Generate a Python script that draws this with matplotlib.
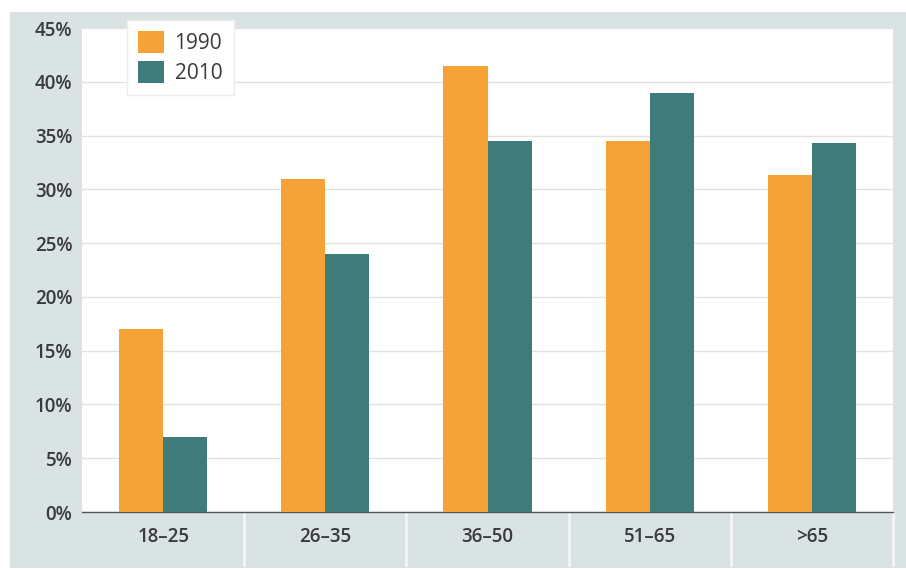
import matplotlib
matplotlib.use("Agg")
import matplotlib.pyplot as plt
import numpy as np
from matplotlib.transforms import blended_transform_factory

plt.rcParams['font.family'] = ['Open Sans', 'DejaVu Sans']

categories = ["18–25", "26–35", "36–50", "51–65", ">65"]
v1990 = [17, 31, 41.5, 34.5, 31.3]
v2010 = [7, 24, 34.5, 39, 34.3]
yticks = [0, 5, 10, 15, 20, 25, 30, 35, 40, 45]
ytick_labels = [f"{t}%" for t in yticks]

c1990 = "#f5a236"
c2010 = "#3f7b79"
panel = "#d9e3e3"
text_c = "#3a3a3a"

fig = plt.figure(figsize=(9.06, 5.71), dpi=100)
fig.patch.set_facecolor("white")

bg = fig.add_axes([10/906, 3/571, 1 - 10/906, 1 - 15/571], zorder=-5)
bg.set_facecolor(panel)
bg.set_xticks([])
bg.set_yticks([])
for s in bg.spines.values():
    s.set_visible(False)

ax = fig.add_axes([82/906, 59/571, 811/906, 484/571], zorder=2)
ax.set_facecolor("white")
x = np.arange(len(categories))
w = 0.272
ax.bar(x - w/2, v1990, w, color=c1990, label="1990", zorder=3)
ax.bar(x + w/2, v2010, w, color=c2010, label="2010", zorder=3)

ax.set_xlim(-0.5, len(categories) - 0.5)
ax.set_ylim(0, 45)
ax.set_yticks(yticks)
ax.set_yticklabels(ytick_labels, fontsize=13.5, color=text_c, fontweight="semibold")
ax.set_xticks(x)
ax.set_xticklabels(categories, fontsize=13.5, color=text_c, fontweight="semibold")
ax.tick_params(axis="both", length=0)
ax.tick_params(axis="x", pad=11)
ax.tick_params(axis="y", pad=7)
ax.grid(axis="y", color="#e2e2e2", linewidth=1.0, zorder=0)
ax.set_axisbelow(True)
for s in ["top", "right", "left"]:
    ax.spines[s].set_visible(False)
ax.spines["bottom"].set_color("#555555")
ax.spines["bottom"].set_linewidth(1.0)

# separators in the category band
trans = blended_transform_factory(ax.transData, ax.transAxes)
for b in np.arange(len(categories) + 1) - 0.5:
    if b == -0.5:
        continue
    ax.plot([b, b], [0, -0.11], transform=trans, color="#f4f6f6",
            linewidth=2, clip_on=False, zorder=1)

leg = ax.legend(loc="upper left", bbox_to_anchor=(0.055, 1.017),
                frameon=True, fancybox=False, fontsize=15,
                handlelength=1.25, handleheight=1.25, handletextpad=0.5,
                labelspacing=0.3, borderpad=0.55, borderaxespad=0)
leg.get_frame().set_facecolor("white")
leg.get_frame().set_edgecolor("#eeeeee")
leg.get_frame().set_alpha(1)
for t in leg.get_texts():
    t.set_color(text_c)

fig.savefig("out.png", dpi=100, facecolor=fig.get_facecolor())
